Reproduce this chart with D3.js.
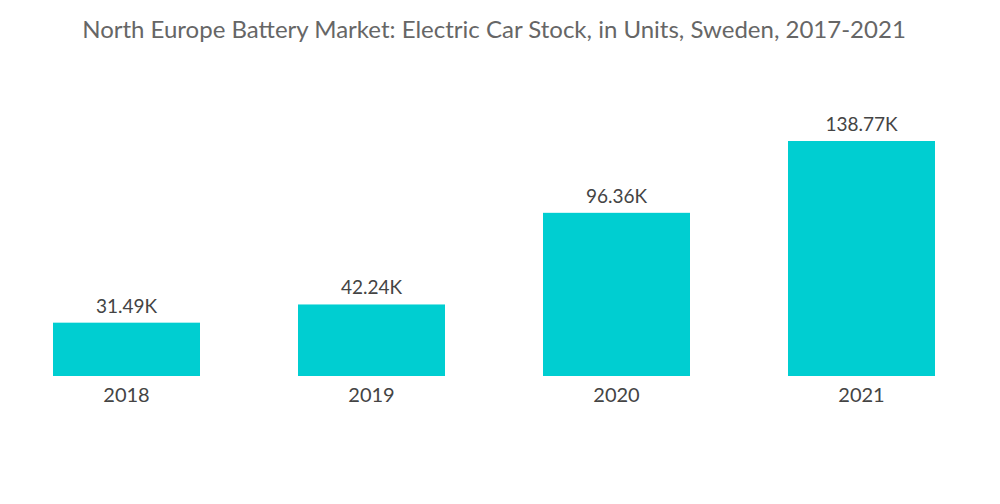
<!DOCTYPE html>
<html>
<head>
<meta charset="utf-8">
<script src="https://cdn.jsdelivr.net/npm/d3@7"></script>
<style>
  body { margin: 0; background: #fff; }
  text { font-family: Lato, "Open Sans", sans-serif; }
</style>
</head>
<body>
<div id="chart"></div>
<script>
// data
const years = ['2018', '2019', '2020', '2021'];
const stock = [31.49, 42.24, 96.36, 138.77]; // thousands of units
const valueLabels = ['31.49K', '42.24K', '96.36K', '138.77K'];

const width = 1000, height = 504;
const baseline = 376, topY = 141;

const svg = d3.select('#chart').append('svg')
    .attr('width', width)
    .attr('height', height);

svg.append('text')
    .attr('x', 494)
    .attr('y', 38)
    .attr('text-anchor', 'middle')
    .style('font-size', '24px')
    .style('fill', '#666')
    .text('North Europe Battery Market: Electric Car Stock, in Units, Sweden, 2017-2021');

const x = d3.scaleBand()
    .domain(years)
    .range([4, 984])
    .paddingInner(0.4)
    .paddingOuter(0.2);

const y = d3.scaleLinear()
    .domain([0, d3.max(stock)])
    .range([baseline, topY]);

const bars = svg.append('g').selectAll('g')
    .data(years)
    .enter().append('g');

bars.append('rect')
    .attr('x', d => x(d))
    .attr('y', (d, i) => y(stock[i]))
    .attr('width', x.bandwidth())
    .attr('height', (d, i) => baseline - y(stock[i]))
    .attr('fill', '#00CED1');

bars.append('text')
    .attr('x', d => x(d) + x.bandwidth() / 2)
    .attr('y', (d, i) => y(stock[i]) - 10)
    .attr('text-anchor', 'middle')
    .style('font-size', '19px')
    .style('fill', '#444')
    .text((d, i) => valueLabels[i]);

// x axis labels, no line
const xAxis = d3.axisBottom(x).tickSize(0).tickPadding(12);
const ax = svg.append('g')
    .attr('transform', 'translate(0,' + baseline + ')')
    .call(xAxis);
ax.select('.domain').remove();
ax.selectAll('text')
    .style('font-size', '20px')
    .style('fill', '#444')
    .style('font-family', 'Lato, "Open Sans", sans-serif');
</script>
</body>
</html>
